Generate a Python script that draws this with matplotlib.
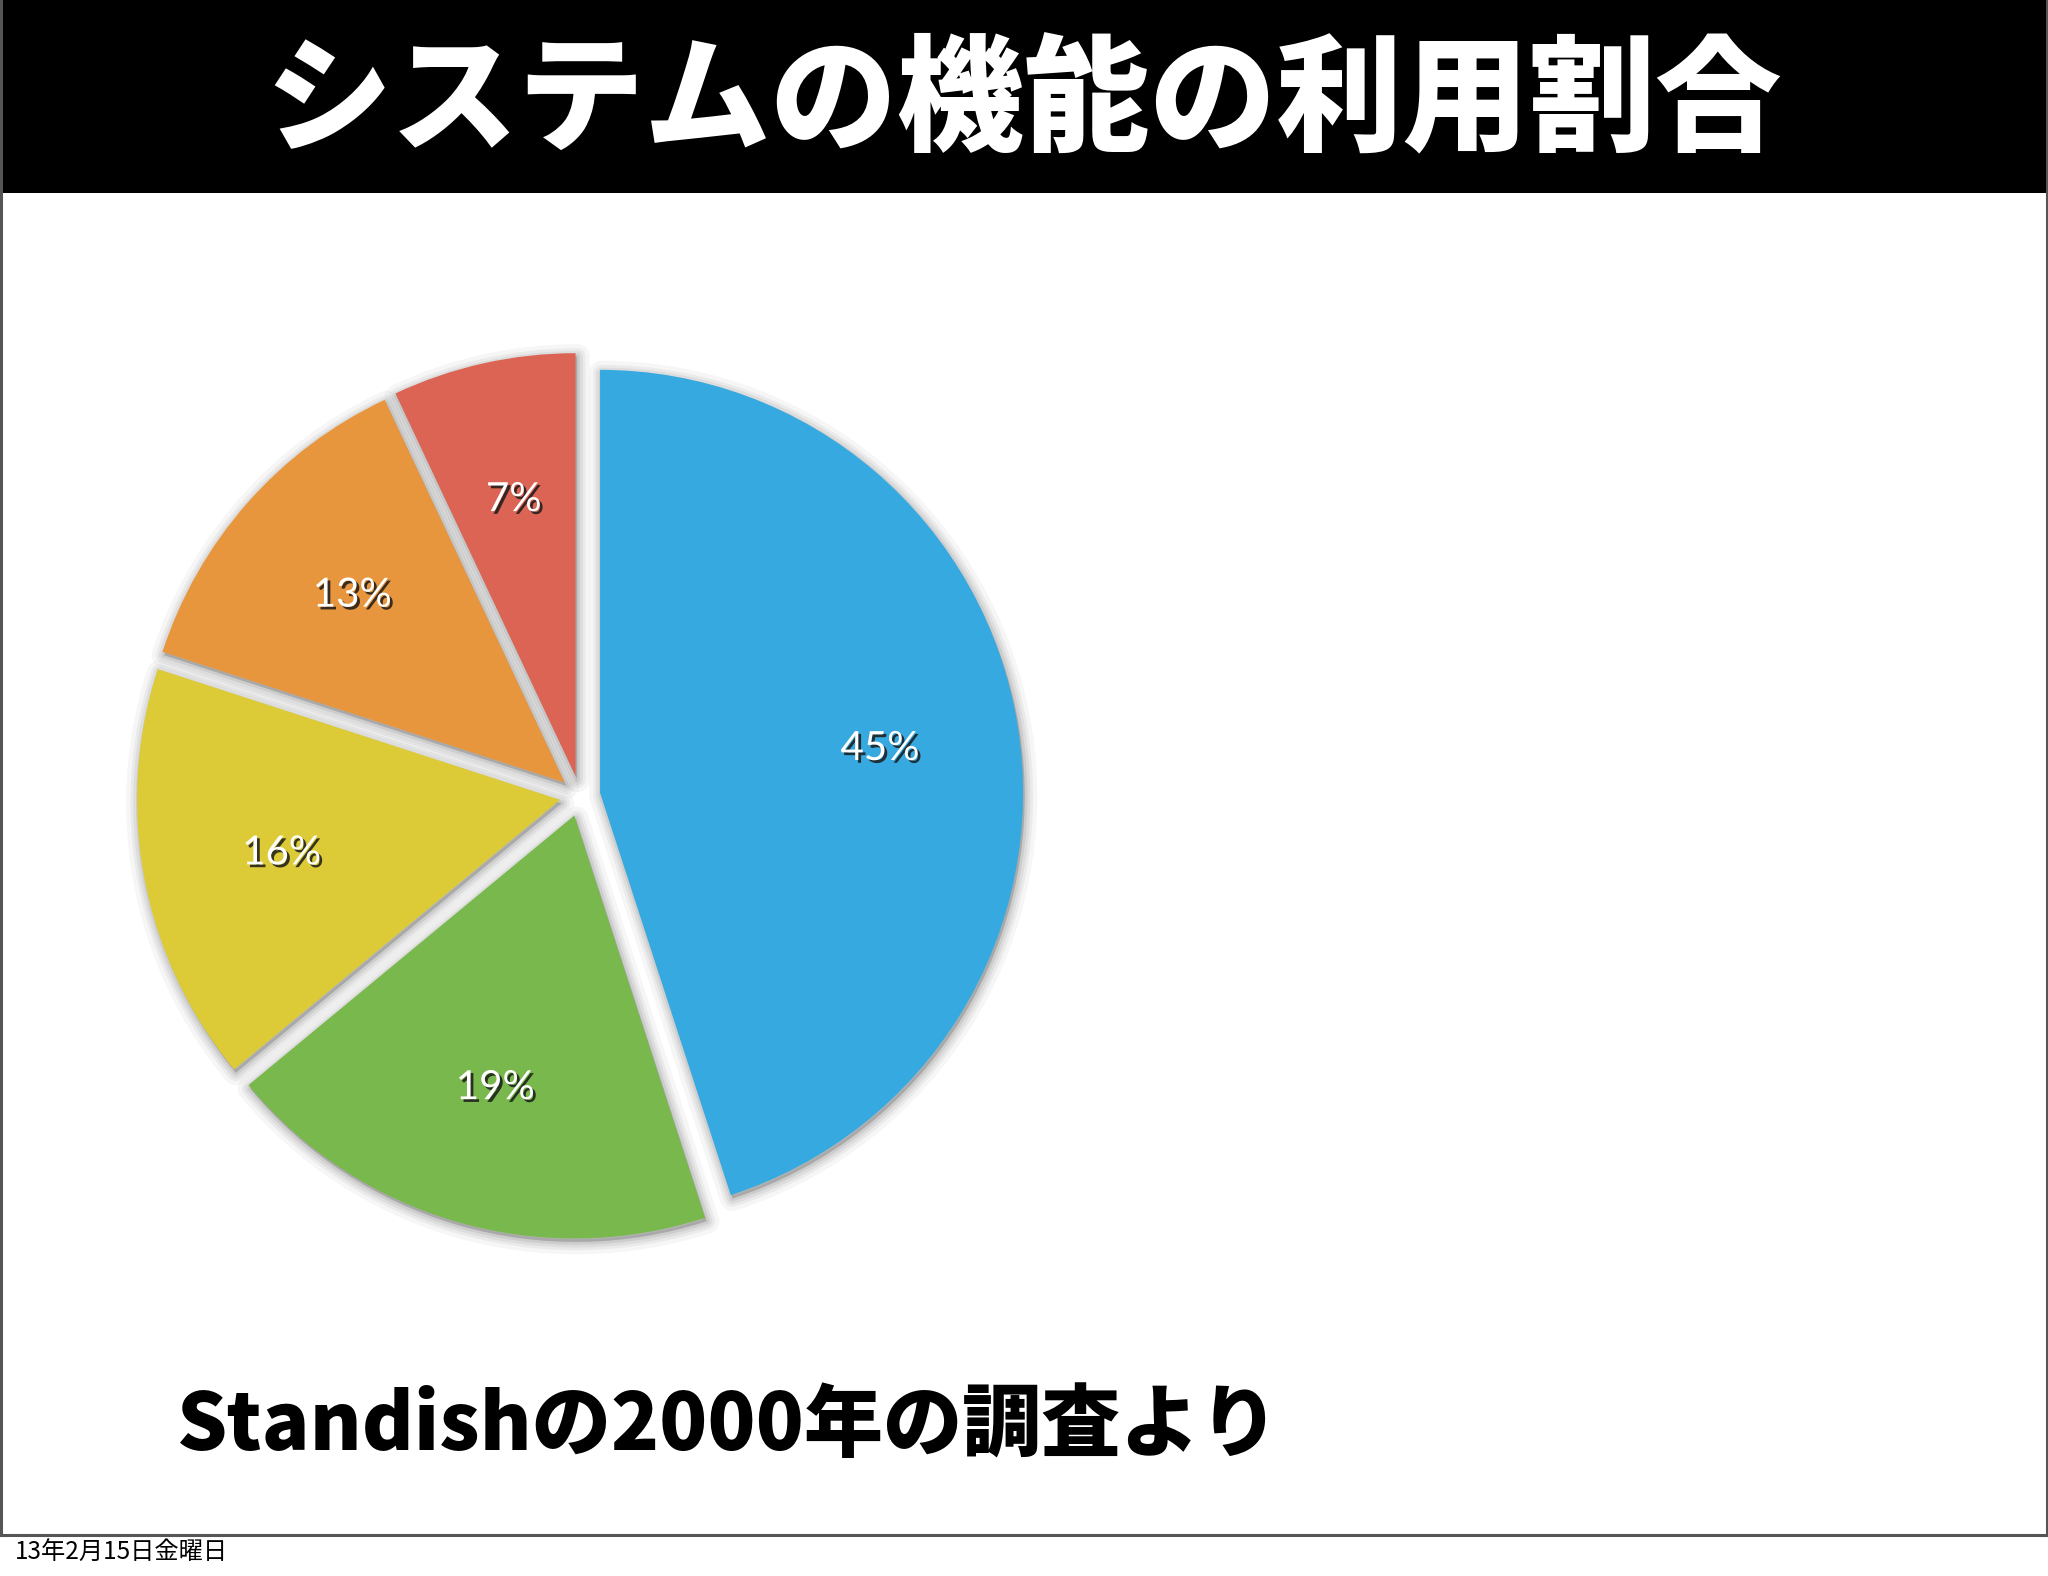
import matplotlib
matplotlib.use("Agg")
import matplotlib.pyplot as plt
import matplotlib.patheffects as pe
from matplotlib.patches import Rectangle

plt.rcParams['font.family'] = ['Noto Sans CJK JP', 'DejaVu Sans']

# data
title = "システムの機能の利用割合"
subtitle = "Standishの2000年の調査より"
footer = "13年2月15日金曜日"
shares = [45, 19, 16, 13, 7]
pct_labels = ["45%", "19%", "16%", "13%", "7%"]
colors = ["#36aae0", "#79b84c", "#dccb37", "#e8963d", "#dc6454"]

W, H = 2048, 1576
fig = plt.figure(figsize=(W / 100, H / 100), dpi=100)
fig.patch.set_facecolor("white")

# slide frame and title bar (kept below the axes)
fig.add_artist(Rectangle((0, 1 - 193 / H), 1, 193 / H, transform=fig.transFigure,
                         facecolor="black", edgecolor="none", zorder=-1))
for xs, ys in [([1 / W, 1 / W], [41 / H, 1]),
               ([1 - 1.5 / W, 1 - 1.5 / W], [41 / H, 1]),
               ([0, 1], [41 / H, 41 / H])]:
    fig.add_artist(plt.Line2D(xs, ys, transform=fig.transFigure,
                              color="#555555", lw=2.2, zorder=-1))

fig.text(0.5, 1 - 104 / H, title, color="white", fontsize=91, fontweight="heavy",
         ha="center", va="center")
fig.text(177 / W, 1 - 1450 / H, subtitle, color="black", fontsize=57, fontweight="heavy",
         ha="left", va="baseline")
fig.text(15 / W, 1 - 1553 / H, footer, color="black", fontsize=17.5,
         ha="left", va="center")

# pie axes: centre (580, 796) px, radius 423 px
cx, cy, R = 580, 796, 423
L = 1.2
half = L * R
ax = fig.add_axes([(cx - half) / W, (H - cy - half) / H, 2 * half / W, 2 * half / H])
explode = [0.048] * len(shares)

# soft shadow underneath
for lw, a in [(18, 0.05), (12, 0.07), (8, 0.09), (4, 0.12)]:
    sw, _ = ax.pie(shares, explode=explode, startangle=90, counterclock=False,
                   wedgeprops=dict(facecolor="#5a5a5a", edgecolor="#5a5a5a",
                                   linewidth=lw, alpha=a, joinstyle="round"))
    for w in sw:
        w.set_center((w.center[0] + 0.004, w.center[1] - 0.008))

wedges, texts, autotexts = ax.pie(
    shares, explode=explode, colors=colors, startangle=90, counterclock=False,
    autopct="%d%%", pctdistance=0.67,
    wedgeprops=dict(edgecolor="none"),
    textprops=dict(color="white", fontsize=29, family=["Lato", "DejaVu Sans"]))
for t, lab in zip(autotexts, pct_labels):
    t.set_text(lab)
    t.set_path_effects([pe.withSimplePatchShadow(offset=(2, -2), shadow_rgbFace="#1a1a1a", alpha=0.85)])

ax.set_xlim(-L, L)
ax.set_ylim(-L, L)
ax.set_aspect("equal")
ax.axis("off")

fig.savefig("out.png", dpi=100, facecolor="white")
